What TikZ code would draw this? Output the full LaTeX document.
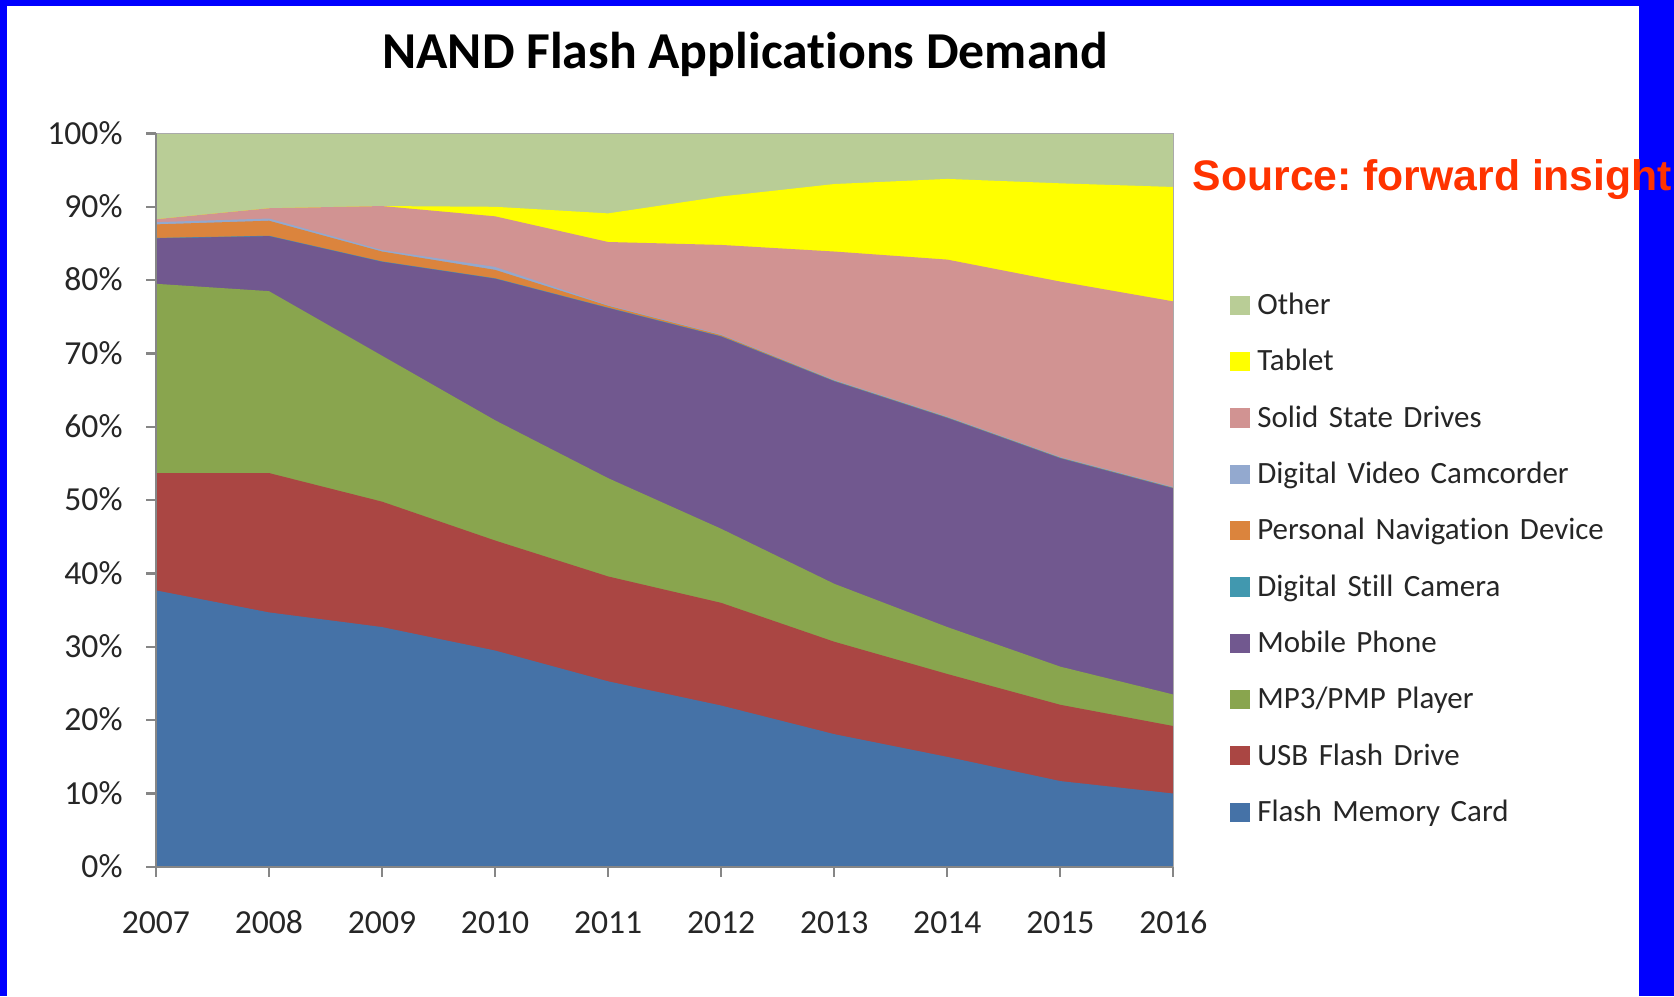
\documentclass[tikz,border=0pt]{standalone}
\usepackage{fontspec}
\setmainfont{Carlito}[RawFeature={-liga;-clig;-calt;-dlig}]
\newfontfamily\legfont{Carlito}[RawFeature={-liga;-clig;-calt;-dlig}, WordSpace=1.5]
\newfontfamily\srcfont{Liberation Sans}
\frenchspacing
\definecolor{frameblue}{RGB}{0,0,255}
\definecolor{srcred}{RGB}{255,51,0}
\definecolor{axisgray}{RGB}{134,134,134}
\definecolor{cFMC}{HTML}{4572A7}
\definecolor{cUSB}{HTML}{AA4643}
\definecolor{cMP}{HTML}{89A54E}
\definecolor{cMob}{HTML}{71588F}
\definecolor{cDSC}{HTML}{4198AF}
\definecolor{cPND}{HTML}{DB843D}
\definecolor{cDVC}{HTML}{93A9CF}
\definecolor{cSSD}{HTML}{D19392}
\definecolor{cTab}{HTML}{FFFF00}
\definecolor{cOth}{HTML}{B9CD96}
\tikzset{
  axis/.style={draw=axisgray, line width=2pt},
  ylab/.style={anchor=base east, inner sep=0pt, font=\fontsize{31.5}{33}\selectfont, text=black!85},
  xlab/.style={anchor=base, inner sep=0pt, font=\fontsize{31.5}{33}\selectfont, text=black!85},
  legsq/.style={fill=#1, draw=none, minimum size=18pt, inner sep=0pt, anchor=center},
  legtxt/.style={anchor=base west, inner sep=0pt, font=\legfont\fontsize{29}{30}\selectfont, text=black!85},
}
\begin{document}
\begin{tikzpicture}[x=1pt,y=-1pt]
\useasboundingbox (0,0) rectangle (1568,933);
\fill[white] (0,0) rectangle (1568,933);
% frame
\fill[frameblue] (0,0) rectangle (7,933);
\fill[frameblue] (0,0) rectangle (1568,5.5);
\fill[frameblue] (1535,0) rectangle (1568,933);
% title
\node[anchor=base, inner sep=0pt, font=\bfseries\fontsize{48.5}{50}\selectfont] (title) at (698,64) {NAND Flash Applications Demand};
% source
\node[anchor=base west, inner sep=0pt, text=srcred, font=\srcfont\bfseries\fontsize{40}{42}\selectfont] (src) at (1117,178) {Source: forward insight};
% chart
\begin{scope}[shift={(146pt,-812pt)}, x=105.9pt, y=6.87pt]
  \fill[cOth] (0,0) rectangle (9,100);
  \fill[cTab] (0,0) -- plot coordinates {(0,88.3) (1,89.8) (2,90.1) (3,90.0) (4,89.1) (5,91.4) (6,93.1) (7,93.8) (8,93.2) (9,92.7)} -- (9,0) -- cycle;
  \fill[cSSD] (0,0) -- plot coordinates {(0,88.3) (1,89.8) (2,90.1) (3,88.7) (4,85.2) (5,84.8) (6,83.9) (7,82.8) (8,79.8) (9,77.1)} -- (9,0) -- cycle;
  \fill[cDVC] (0,0) -- plot coordinates {(0,87.9) (1,88.4) (2,84.1) (3,81.8) (4,76.6) (5,72.6) (6,66.4) (7,61.4) (8,55.9) (9,51.8)} -- (9,0) -- cycle;
  \fill[cPND] (0,0) -- plot coordinates {(0,87.6) (1,88.1) (2,83.9) (3,81.4) (4,76.5) (5,72.5) (6,66.3) (7,61.3) (8,55.8) (9,51.7)} -- (9,0) -- cycle;
  \fill[cDSC] (0,0) -- plot coordinates {(0,85.75) (1,86.05) (2,82.55) (3,80.25) (4,76.25) (5,72.35) (6,66.25) (7,61.25) (8,55.75) (9,51.65)} -- (9,0) -- cycle;
  \fill[cMob] (0,0) -- plot coordinates {(0,85.7) (1,86.0) (2,82.5) (3,80.2) (4,76.2) (5,72.3) (6,66.2) (7,61.2) (8,55.7) (9,51.6)} -- (9,0) -- cycle;
  \fill[cMP] (0,0) -- plot coordinates {(0,79.5) (1,78.5) (2,69.7) (3,60.9) (4,53.0) (5,46.1) (6,38.6) (7,32.7) (8,27.3) (9,23.5)} -- (9,0) -- cycle;
  \fill[cUSB] (0,0) -- plot coordinates {(0,53.7) (1,53.7) (2,49.8) (3,44.5) (4,39.6) (5,36.0) (6,30.7) (7,26.3) (8,22.1) (9,19.2)} -- (9,0) -- cycle;
  \fill[cFMC] (0,0) -- plot coordinates {(0,37.7) (1,34.7) (2,32.7) (3,29.5) (4,25.3) (5,22.0) (6,18.1) (7,15.0) (8,11.7) (9,10.0)} -- (9,0) -- cycle;
  % plot frame
  \coordinate (o) at (0,0);
  \coordinate (tl) at (0,100);
  \coordinate (tr) at (9,100);
  \coordinate (br) at (9,0);
  \draw[draw=axisgray!70, line width=1.2pt] (tl) -- (tr) -- (br);
  \draw[axis] (tl) -- (o) -- (br);
  \foreach \p in {0,10,...,100} {
    \coordinate (yt\p) at (0,\p);
    \draw[axis] (yt\p) -- ++(-9pt,0);
    \node[ylab] (yl\p) at ([xshift=-31pt, yshift=-10pt]yt\p) {\p\%};
  }
  \foreach \i in {0,...,9} {
    \coordinate (xt\i) at (\i,0);
    \draw[axis] (xt\i) -- ++(0,-9pt);
    \pgfmathtruncatemacro\yr{2007+\i}
    \node[xlab] (xl\i) at ([yshift=-62pt]xt\i) {\yr};
  }
\end{scope}
% legend
\node[legsq=cOth] (s1) at (1161.5,286) {};
\node[legtxt] (l1) at (1177.5,294.6) {Other};
\node[legsq=cTab] (s2) at (1161.5,338.8) {};
\node[legtxt] (l2) at (1177.5,347.4) {Tablet};
\node[legsq=cSSD] (s3) at (1161.5,391.5) {};
\node[legtxt] (l3) at (1177.5,400.1) {Solid State Drives};
\node[legsq=cDVC] (s4) at (1161.5,444.3) {};
\node[legtxt] (l4) at (1177.5,452.9) {Digital Video Camcorder};
\node[legsq=cPND] (s5) at (1161.5,497) {};
\node[legtxt] (l5) at (1177.5,505.6) {Personal Navigation Device};
\node[legsq=cDSC] (s6) at (1161.5,549.8) {};
\node[legtxt] (l6) at (1177.5,558.4) {Digital Still Camera};
\node[legsq=cMob] (s7) at (1161.5,602.5) {};
\node[legtxt] (l7) at (1177.5,611.1) {Mobile Phone};
\node[legsq=cMP] (s8) at (1161.5,655.3) {};
\node[legtxt] (l8) at (1177.5,663.9) {MP3/PMP Player};
\node[legsq=cUSB] (s9) at (1161.5,708) {};
\node[legtxt] (l9) at (1177.5,716.6) {USB Flash Drive};
\node[legsq=cFMC] (s10) at (1161.5,760.8) {};
\node[legtxt] (l10) at (1177.5,769.4) {Flash Memory Card};
\end{tikzpicture}
\end{document}
